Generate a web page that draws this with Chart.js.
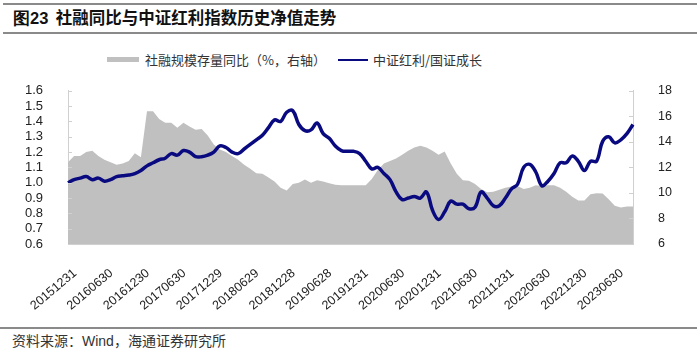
<!DOCTYPE html>
<html>
<head>
<meta charset="utf-8">
<script src="https://cdn.jsdelivr.net/npm/chart.js@4"></script>
<style>
  body { margin: 0; background: #fff; }
  #wrap { position: relative; width: 700px; height: 354px; overflow: hidden; font-family: "Noto Sans CJK SC", sans-serif; }
  .rule { position: absolute; left: 3px; width: 694px; height: 2px; background: #8a8a8a; }
  #title { position: absolute; left: 13px; top: 5px; font-size: 16.5px; font-weight: bold; color: #111; white-space: nowrap; }
  #title .num { font-family: "Liberation Sans", Arial, sans-serif; }
  .lg { position: absolute; font-size: 13px; color: #333; white-space: nowrap; top: 50px; }
  #src { position: absolute; left: 12px; top: 330px; font-size: 14px; color: #333; white-space: nowrap; }
  #src .en { font-family: "Liberation Sans", Arial, sans-serif; }
  #chartBox { position: absolute; left: 0; top: 66px; width: 700px; height: 264px; }
</style>
</head>
<body>
<div id="wrap">
  <div class="rule" style="top:3px"></div>
  <div id="title"><span class="num">图23</span>&nbsp;&nbsp;社融同比与中证红利指数历史净值走势</div>
  <div class="rule" style="top:32px"></div>

  <div style="position:absolute;left:107px;top:57px;width:32px;height:5px;background:#c0c0c0"></div>
  <div class="lg" style="left:145px">社融规模存量同比（%，右轴）</div>
  <div style="position:absolute;left:338px;top:59px;width:30px;height:2px;background:#0a0a80"></div>
  <div class="lg" style="left:373px">中证红利/国证成长</div>

  <div id="chartBox"><canvas id="chart"></canvas></div>

  <div class="rule" style="top:327px;left:0;width:697px"></div>
  <div id="src">资料来源：<span class="en">Wind</span>，海通证券研究所</div>
</div>

<script>
// month-end points, 2015-12 .. 2023-09; a label is shown every 6 months
const tickLabels = ['20151231', '20160630', '20161230', '20170630', '20171229', '20180629',
    '20181228', '20190628', '20191231', '20200630', '20201231', '20210630',
    '20211231', '20220630', '20221230', '20230630'];

// 中证红利/国证成长 (left axis)
const ratioValues = [
    1.00, 1.02, 1.03, 1.04, 1.02, 1.03, 1.01, 1.02, 1.04, 1.045,
    1.05, 1.06, 1.08, 1.11, 1.13, 1.15, 1.16, 1.19, 1.18, 1.21,
    1.20, 1.17, 1.17, 1.18, 1.20, 1.24, 1.23, 1.20, 1.19, 1.22,
    1.25, 1.28, 1.31, 1.36, 1.41, 1.40, 1.46, 1.47, 1.38, 1.34,
    1.345, 1.39, 1.32, 1.29, 1.24, 1.21, 1.205, 1.205, 1.19, 1.14,
    1.09, 1.10, 1.06, 1.02, 0.94, 0.89, 0.90, 0.91, 0.90, 0.94,
    0.82, 0.76, 0.81, 0.88, 0.86, 0.86, 0.83, 0.84, 0.94, 0.90,
    0.85, 0.85, 0.90, 0.96, 0.99, 1.10, 1.12, 1.07, 0.98, 1.01,
    1.06, 1.13, 1.13, 1.175, 1.14, 1.08, 1.14, 1.14, 1.27, 1.30,
    1.26, 1.28, 1.32, 1.38
];

// 社融规模存量同比 % (right axis)
const tsfGrowth = [
    12.4, 12.9, 12.9, 13.2, 13.3, 12.9, 12.6, 12.4, 12.2, 12.3,
    12.5, 13.1, 12.8, 16.4, 16.4, 15.8, 15.5, 15.5, 15.1, 15.5,
    15.2, 14.95, 15.0, 14.5, 13.8, 13.4, 13.2, 12.9, 12.6, 12.2,
    11.9, 11.55, 11.5, 11.2, 10.9, 10.4, 10.2, 10.7, 10.8, 11.05,
    10.8, 11.0, 10.9, 10.75, 10.65, 10.6, 10.6, 10.6, 10.6, 10.6,
    11.1, 11.8, 12.3, 12.5, 12.7, 13.0, 13.3, 13.55, 13.7, 13.55,
    13.3, 13.0, 13.25, 12.3, 11.5, 11.0, 10.95, 10.7, 10.3, 10.05,
    10.1, 10.25, 10.4, 10.5, 10.55, 10.3, 10.4, 10.6, 10.55, 10.6,
    10.6, 10.4, 10.1, 9.7, 9.4, 9.4, 9.9, 9.97, 9.95, 9.5,
    9.0, 8.85, 8.93, 8.93
];

const categories = ratioValues.map((v, i) => (i % 6 === 0 ? tickLabels[i / 6] : ''));

// small tick marks pointing into the plot, like the original
const innerTicks = {
    id: 'innerTicks',
    afterDraw(chart) {
        const ctx = chart.ctx;
        const area = chart.chartArea;
        ctx.save();
        ctx.strokeStyle = '#d0d0d0';
        ctx.lineWidth = 1;
        chart.scales.y.ticks.forEach(t => {
            const py = Math.round(chart.scales.y.getPixelForValue(t.value)) + 0.5;
            ctx.beginPath(); ctx.moveTo(area.left, py); ctx.lineTo(area.left + 4, py); ctx.stroke();
        });
        chart.scales.y2.ticks.forEach(t => {
            const py = Math.round(chart.scales.y2.getPixelForValue(t.value)) + 0.5;
            ctx.beginPath(); ctx.moveTo(area.right, py); ctx.lineTo(area.right - 4, py); ctx.stroke();
        });
        ctx.restore();
    }
};

const sansFont = '"Liberation Sans", Arial, sans-serif';

new Chart(document.getElementById('chart').getContext('2d'), {
    type: 'line',
    data: {
        labels: categories,
        datasets: [
            {
                label: '中证红利/国证成长',
                data: ratioValues,
                yAxisID: 'y',
                borderColor: '#0a0a80',
                borderWidth: 3.5,
                pointRadius: 0,
                tension: 0.4,
                fill: false,
                order: 0
            },
            {
                label: '社融规模存量同比（%，右轴）',
                data: tsfGrowth,
                yAxisID: 'y2',
                borderWidth: 0,
                backgroundColor: '#c0c0c0',
                pointRadius: 0,
                tension: 0,
                fill: 'origin',
                order: 1
            }
        ]
    },
    options: {
        responsive: true,
        maintainAspectRatio: false,
        animation: false,
        layout: { padding: { top: 10, left: 0, right: 0, bottom: 0 } },
        plugins: { legend: { display: false }, tooltip: { enabled: false } },
        scales: {
            x: {
                offset: false,
                grid: { display: false },
                border: { color: '#d0d0d0' },
                ticks: {
                    autoSkip: false, maxRotation: 40, minRotation: 40,
                    padding: 14, labelOffset: 7, color: '#222',
                    font: { family: sansFont, size: 12.5 }
                },
                afterFit(scale) { scale.height = 86; }
            },
            y: {
                position: 'left',
                min: 0.6, max: 1.6,
                grid: { display: false },
                border: { color: '#d0d0d0' },
                ticks: { stepSize: 0.1, autoSkip: false, padding: 17, color: '#222',
                    font: { family: sansFont, size: 13 },
                    callback: v => v.toFixed(1) },
                afterFit(scale) { scale.width = 68; }
            },
            y2: {
                position: 'right',
                min: 6, max: 18,
                grid: { display: false },
                border: { color: '#d0d0d0' },
                ticks: { stepSize: 2, autoSkip: false, padding: 17, color: '#222',
                    font: { family: sansFont, size: 12.5 } },
                afterFit(scale) { scale.width = 67; }
            }
        }
    },
    plugins: [innerTicks]
});
</script>
</body>
</html>
